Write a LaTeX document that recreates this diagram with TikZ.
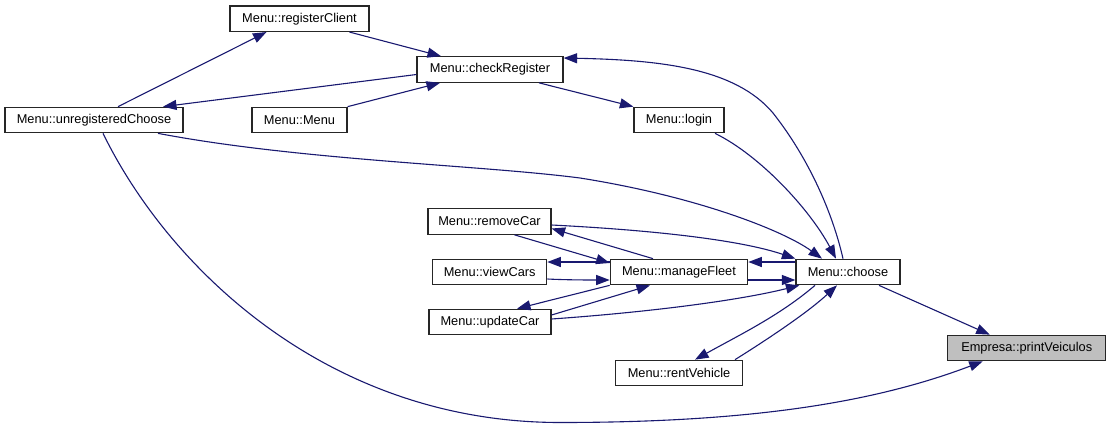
\documentclass[tikz,border=0pt]{standalone}
\usepackage{fontspec}
\setmainfont{Liberation Sans}
\usetikzlibrary{arrows.meta,calc}
\definecolor{edgeblue}{HTML}{191970}
\definecolor{hilite}{HTML}{BFBFBF}
\tikzset{
  fn/.style={draw=black!85, line width=1.2pt, fill=white, minimum height=25.5pt, inner sep=0pt,
    font=\fontsize{12.8}{14}\selectfont, text=black},
  cur/.style={fn, fill=hilite},
  call/.style={draw=edgeblue, line width=1.1pt, -{Triangle[length=13.5pt,width=10pt]}, fill=none},
}
\begin{document}
\begin{tikzpicture}[x=1pt,y=-1pt]
\useasboundingbox (0,0) rectangle (1111,429);
\node[fn, minimum width=139pt] (rc)  at (299.5,18.7) {Menu::registerClient};
\node[fn, minimum width=146pt] (cr)  at (490,69.5) {Menu::checkRegister};
\node[fn, minimum width=178pt] (uc)  at (94,120) {Menu::unregisteredChoose};
\node[fn, minimum width=95pt]  (mm)  at (299.5,120) {Menu::Menu};
\node[fn, minimum width=90pt]  (lg)  at (679,120) {Menu::login};
\node[fn, minimum width=123pt] (rmc) at (489.5,221.5) {Menu::removeCar};
\node[fn, minimum width=114pt] (vc)  at (489.7,272) {Menu::viewCars};
\node[fn, minimum width=137.4pt] (mf) at (679,272) {Menu::manageFleet};
\node[fn, minimum width=122pt] (uca) at (490,322) {Menu::updateCar};
\node[fn, minimum width=127pt] (rv)  at (679,373) {Menu::rentVehicle};
\node[fn, minimum width=104pt] (ch)  at (848,272) {Menu::choose};
\node[cur, minimum width=158pt] (pv) at (1026.7,348) {Empresa::printVeiculos};

\coordinate (low) at (560,422.5);
\coordinate (ucmid) at (580,178);
\coordinate (chmid) at (773,113);

% choose -> printVeiculos
\draw[call] ($(ch.south)+(31,0)$) -- ($(pv.north)+(-37,0)$);
% unregisteredChoose -> printVeiculos
\draw[call] ($(uc.south)+(9,0)$) .. controls +(67,137) and +(-230,0) .. (low)
  .. controls +(200,0) and +(-103,39) .. ($(pv.south)+(-44,0)$);
% unregisteredChoose -> choose
\draw[call] ($(uc.south)+(64,0)$) .. controls +(142,27) and +(-100,-13) .. (ucmid)
  .. controls +(120,19) and +(-37,-27) .. ($(ch.north)+(-26,0)$);
% checkRegister -> unregisteredChoose
\draw[call] ($(cr.west)+(0,5)$) -- ($(uc.north)+(69,0)$);
% unregisteredChoose -> registerClient
\draw[call] ($(uc.north)+(24,0)$) -- ($(rc.south)+(-33,0)$);
% registerClient -> checkRegister
\draw[call] ($(rc.south)+(50,0)$) -- ($(cr.north)+(-49,0)$);
% Menu -> checkRegister
\draw[call] (mm.north east) -- ($(cr.south)+(-50,0)$);
% checkRegister -> login
\draw[call] ($(cr.south)+(49,0)$) -- (lg.north west);
% choose -> checkRegister
\draw[call] ($(ch.north)+(-5,0)$) .. controls +(-10,-44) and +(37,47) .. (chmid)
  .. controls +(-38,-45) and +(97,2) .. ($(cr.east)+(0,-11.5)$);
% login -> choose
\draw[call] ($(lg.south)+(36,0)$) .. controls +(45,22) and +(-26,-49) .. ($(ch.north)+(-12,0)$);
% removeCar -> choose
\draw[call] ($(rmc.east)+(0,3.5)$) .. controls +(99,5) and +(-56,-19) .. (ch.north west);
% choose -> manageFleet
\draw[call] ($(ch.west)+(0,-10)$) -- ($(mf.east)+(0,-10)$);
% manageFleet -> choose
\draw[call] ($(mf.east)+(0,8)$) -- ($(ch.west)+(0,8)$);
% manageFleet -> removeCar
\draw[call] ($(mf.north)+(-26,0)$) -- ($(rmc.east)+(0,7)$);
% removeCar -> manageFleet
\draw[call] ($(rmc.south)+(25,0)$) -- ($(mf.west)+(0,-9)$);
% manageFleet -> viewCars
\draw[call] ($(mf.west)+(0,-10)$) -- ($(vc.east)+(0,-10)$);
% viewCars -> manageFleet
\draw[call] ($(vc.east)+(0,7)$) .. controls +(20,1) and +(-20,0) .. ($(mf.west)+(0,8)$);
% manageFleet -> updateCar
\draw[call] (mf.south west) -- ($(uca.north)+(27,0)$);
% updateCar -> manageFleet
\draw[call] ($(uca.east)+(0,-7)$) -- ($(mf.south)+(-29,0)$);
% updateCar -> choose
\draw[call] ($(uca.east)+(0,-3)$) .. controls +(99,-7) and +(-60,15) .. ($(ch.south west)+(4,0)$);
% choose -> rentVehicle
\draw[call] ($(ch.south)+(-33,0)$) .. controls +(-35,30) and +(45,-25) .. ($(rv.north)+(16,0)$);
% rentVehicle -> choose
\draw[call] ($(rv.north)+(56,0)$) .. controls +(40,-25) and +(-27,25) .. ($(ch.south)+(-11,0)$);
\end{tikzpicture}
\end{document}
